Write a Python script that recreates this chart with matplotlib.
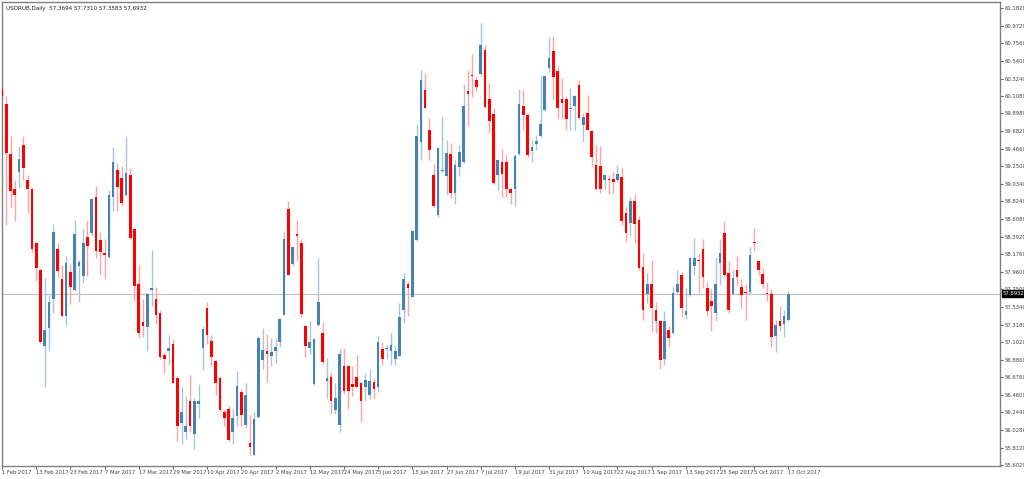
import matplotlib.pyplot as plt
import numpy as np

# daily USDRUB candles, 1 Feb 2017 .. 18 Oct 2017
opens = [60.20, 60.01, 59.40, 58.98, 59.18, 59.51, 59.09, 58.97, 58.32, 57.99,
         57.06, 57.28, 57.63, 58.24, 57.87, 57.42, 57.96, 57.74, 58.04, 57.91,
         58.39, 58.44, 58.88, 58.35, 58.19, 58.14, 58.88, 59.21, 59.11, 58.90,
         59.14, 58.49, 57.81, 57.35, 57.29, 57.74, 57.63, 57.46, 56.95, 56.99,
         57.08, 56.67, 56.12, 56.00, 56.39, 55.98, 56.35, 57.03, 57.52, 57.12,
         56.87, 56.67, 56.25, 56.29, 56.01, 56.20, 56.50, 56.09, 55.87, 55.73,
         56.19, 56.89, 57.00, 56.93, 56.99, 57.10, 57.44, 58.73, 58.06, 58.43,
         58.31, 57.30, 57.03, 56.59, 57.31, 57.21, 56.63, 56.68, 56.28, 56.09,
         56.81, 56.81, 56.59, 56.68, 56.61, 56.56, 56.46, 56.62, 56.55, 57.02,
         57.02, 56.99, 56.90, 56.94, 57.50, 57.81, 57.66, 58.35, 59.55, 60.18,
         59.70, 59.14, 58.66, 59.19, 59.13, 59.40, 58.93, 59.24, 59.31, 60.17,
         60.37, 60.31, 60.38, 60.67, 60.08, 59.89, 59.14, 59.30, 59.30, 58.98,
         58.98, 59.40, 59.99, 59.88, 59.44, 59.53, 59.62, 59.94, 60.45, 60.66,
         60.42, 60.07, 60.08, 59.95, 59.99, 60.24, 59.76, 59.90, 59.68, 59.27,
         59.25, 59.09, 59.09, 59.10, 59.09, 59.12, 58.68, 58.56, 58.83, 58.59,
         58.02, 57.69, 57.81, 57.50, 57.36, 56.90, 57.25, 57.21, 57.72, 57.93,
         57.43, 57.68, 58.03, 58.11, 58.24, 57.76, 57.61, 57.46, 58.07, 58.44,
         57.95, 57.69, 57.98, 57.78, 57.71, 57.72, 58.33, 58.10, 57.94, 57.71,
         57.69, 57.18, 57.36, 57.33, 57.3694]
highs = [60.42, 60.11, 59.62, 59.09, 59.49, 59.62, 59.14, 58.99, 58.33, 58.01,
         57.89, 57.68, 58.55, 58.32, 58.05, 58.16, 58.06, 58.59, 58.11, 58.49,
         58.60, 58.87, 59.01, 58.45, 58.37, 58.96, 59.49, 59.29, 59.25, 59.62,
         59.23, 58.50, 58.05, 57.63, 57.71, 58.23, 57.78, 57.50, 56.97, 57.19,
         57.14, 56.69, 56.55, 56.45, 56.70, 56.42, 56.59, 57.30, 57.59, 57.19,
         56.89, 56.69, 56.29, 56.32, 56.29, 56.75, 56.53, 56.61, 56.21, 56.25,
         57.18, 57.28, 57.20, 57.16, 57.16, 57.40, 58.46, 58.83, 58.28, 58.60,
         58.37, 57.31, 57.36, 57.15, 58.13, 57.35, 56.91, 56.74, 56.61, 57.02,
         57.03, 56.82, 56.81, 56.95, 56.62, 56.73, 56.77, 56.66, 57.18, 57.11,
         57.07, 57.22, 57.06, 57.58, 57.95, 57.85, 58.47, 59.77, 60.43, 60.39,
         59.84, 59.28, 59.49, 59.87, 59.57, 59.54, 59.33, 59.51, 60.26, 60.43,
         60.62, 60.35, 61.00, 60.74, 60.27, 59.96, 59.34, 59.46, 59.39, 59.00,
         59.40, 60.20, 60.19, 59.90, 59.57, 59.63, 60.35, 60.36, 60.83, 60.85,
         60.48, 60.33, 60.10, 60.21, 60.12, 60.31, 59.90, 60.12, 59.69, 59.51,
         59.50, 59.16, 59.14, 59.18, 59.27, 59.23, 58.76, 58.88, 58.91, 58.64,
         58.19, 57.95, 58.11, 57.59, 57.38, 57.49, 57.30, 57.79, 57.99, 57.96,
         57.77, 58.14, 58.38, 58.19, 58.37, 57.84, 57.75, 58.15, 58.37, 58.58,
         58.10, 57.98, 58.16, 57.88, 57.81, 58.27, 58.50, 58.11, 58.01, 57.84,
         57.75, 57.38, 57.55, 57.50, 57.7310]
lows = [60.06, 58.53, 58.74, 58.58, 58.99, 59.09, 58.68, 58.21, 57.85, 57.09,
        56.56, 56.99, 57.46, 57.90, 57.41, 57.31, 57.57, 57.73, 57.59, 57.83,
        57.91, 58.40, 58.13, 57.92, 57.88, 58.13, 58.70, 58.70, 58.77, 58.89,
        58.37, 57.61, 57.15, 57.17, 57.00, 57.55, 57.33, 56.90, 56.73, 56.83,
        56.60, 55.90, 55.86, 55.92, 56.00, 55.80, 56.18, 56.76, 57.08, 56.81,
        56.46, 56.26, 56.08, 55.89, 55.86, 56.08, 56.08, 56.06, 55.72, 55.72,
        56.18, 56.77, 56.62, 56.81, 56.85, 57.05, 57.43, 57.92, 58.03, 58.10,
        57.41, 56.92, 56.96, 56.58, 57.30, 56.84, 56.41, 56.22, 56.22, 56.00,
        56.47, 56.29, 56.45, 56.55, 56.13, 56.39, 56.41, 56.42, 56.49, 56.83,
        56.90, 56.83, 56.83, 56.93, 57.34, 57.42, 57.65, 58.34, 59.33, 59.95,
        59.33, 58.76, 58.63, 59.18, 58.90, 58.86, 58.79, 59.13, 59.29, 59.75,
        60.10, 60.17, 60.35, 59.97, 59.66, 59.04, 58.96, 58.88, 58.88, 58.79,
        58.77, 59.39, 59.70, 59.36, 59.31, 59.45, 59.61, 59.93, 60.40, 60.06,
        59.83, 59.83, 59.70, 59.70, 59.70, 59.83, 59.55, 59.69, 59.25, 58.96,
        58.92, 58.98, 58.91, 58.92, 59.06, 58.54, 58.33, 58.41, 58.32, 57.99,
        57.37, 57.58, 57.23, 57.22, 56.78, 56.83, 57.04, 57.20, 57.71, 57.41,
        57.39, 57.67, 57.92, 57.71, 57.76, 57.42, 57.24, 57.36, 57.80, 57.90,
        57.46, 57.68, 57.80, 57.52, 57.37, 57.69, 58.22, 57.93, 57.77, 57.61,
        57.05, 56.98, 57.24, 57.17, 57.3583]
closes = [60.11, 59.41, 58.95, 58.90, 59.34, 59.23, 58.97, 58.24, 58.01, 57.11,
          57.25, 57.60, 58.45, 57.97, 57.42, 58.07, 57.78, 58.43, 58.08, 58.32,
          58.28, 58.85, 58.22, 58.21, 58.17, 58.90, 59.30, 59.00, 58.80, 59.17,
          58.38, 57.79, 57.22, 57.30, 57.69, 57.77, 57.44, 56.92, 56.90, 57.03,
          56.61, 56.08, 56.25, 56.08, 56.08, 56.39, 56.38, 57.26, 57.19, 56.92,
          56.60, 56.28, 56.18, 55.91, 56.18, 56.57, 56.21, 56.46, 55.82, 56.16,
          57.16, 57.01, 56.96, 56.98, 57.04, 57.39, 58.37, 57.93, 58.27, 58.40,
          57.45, 57.06, 57.11, 57.14, 57.59, 56.86, 56.66, 56.38, 56.42, 56.96,
          56.51, 56.51, 56.55, 56.56, 56.39, 56.64, 56.63, 56.53, 57.11, 56.90,
          57.03, 57.07, 57.00, 57.41, 57.88, 57.76, 58.46, 59.62, 60.31, 59.96,
          59.45, 58.77, 59.48, 59.20, 59.42, 58.93, 59.27, 59.43, 59.99, 60.13,
          60.35, 60.22, 60.73, 59.98, 59.81, 59.05, 59.33, 59.16, 58.97, 58.93,
          59.38, 60.01, 59.88, 59.39, 59.49, 59.56, 59.77, 60.35, 60.57, 60.34,
          59.96, 60.03, 59.83, 59.97, 60.11, 59.84, 59.86, 59.70, 59.37, 58.97,
          58.97, 59.14, 59.08, 59.06, 59.16, 58.58, 58.44, 58.83, 58.55, 58.01,
          57.50, 57.82, 57.52, 57.36, 56.89, 57.36, 57.16, 57.70, 57.82, 57.52,
          57.49, 58.13, 58.13, 58.10, 57.90, 57.49, 57.55, 57.81, 58.19, 57.92,
          57.50, 57.89, 57.90, 57.68, 57.70, 58.17, 58.32, 57.98, 57.82, 57.69,
          57.17, 57.31, 57.30, 57.42, 57.6932]

date_labels = ['1 Feb 2017', '13 Feb 2017', '23 Feb 2017', '7 Mar 2017', '17 Mar 2017',
               '29 Mar 2017', '10 Apr 2017', '20 Apr 2017', '2 May 2017', '12 May 2017',
               '24 May 2017', '5 Jun 2017', '15 Jun 2017', '27 Jun 2017', '7 Jul 2017',
               '19 Jul 2017', '31 Jul 2017', '10 Aug 2017', '22 Aug 2017', '1 Sep 2017',
               '13 Sep 2017', '25 Sep 2017', '5 Oct 2017', '17 Oct 2017']
price_ticks = [61.1820, 60.9720, 60.7560, 60.5400, 60.3240, 60.1080, 59.8980, 59.6820,
               59.4660, 59.2500, 59.0340, 58.8240, 58.6080, 58.3920, 58.1760, 57.9600,
               57.7500, 57.5340, 57.3180, 57.1020, 56.8860, 56.6760, 56.4600, 56.2440,
               56.0280, 55.8120, 55.6020]

o = np.array(opens); h = np.array(highs); l = np.array(lows); c = np.array(closes)
x = np.arange(len(o))
up = c >= o

fig = plt.figure(figsize=(10.24, 4.79), dpi=100, facecolor='white')
ax = fig.add_axes([2 / 1024, 13 / 479, 998 / 1024, 464 / 479])

blue, red = '#4682B4', '#FF0000'
blue_w, red_w = '#A9C4DD', '#FFA3A3'

ax.vlines(x[up], l[up], h[up], color=blue_w, lw=1.0, zorder=2)
ax.vlines(x[~up], l[~up], h[~up], color=red_w, lw=1.0, zorder=2)
body_lo = np.minimum(o, c)
body_h = np.maximum(np.abs(c - o), 0.012)
ax.bar(x[up], body_h[up], bottom=body_lo[up], width=0.62, color=blue, lw=0, zorder=3)
ax.bar(x[~up], body_h[~up], bottom=body_lo[~up], width=0.62, color=red, lw=0, zorder=3)

last = closes[-1]
ax.axhline(last, color='#C0C0C0', lw=0.8, zorder=1)

ax.set_xlim(0, 233.5)
ax.set_ylim(55.59, 61.26)

fs = 3.8
ax.yaxis.tick_right()
ax.set_yticks(price_ticks)
ax.set_yticklabels([f'{v:.4f}' for v in price_ticks])
ax.tick_params(axis='y', labelsize=fs, length=2, width=0.6, pad=1, colors='#404040')
ax.set_xticks(np.arange(len(date_labels)) * 8)
ax.set_xticklabels(date_labels, ha='left')
ax.tick_params(axis='x', labelsize=fs, length=2.5, width=0.6, pad=0.5, colors='#404040')
for s in ax.spines.values():
    s.set_color('#808080')
    s.set_linewidth(1.0)

ax.text(1.003, last, f'{last:.4f}', transform=ax.get_yaxis_transform(), fontsize=fs,
        color='white', va='center', ha='left', zorder=10,
        bbox=dict(boxstyle='square,pad=0.2', fc='black', ec='black'))

ax.text(0.004, 0.992, 'USDRUB,Daily  57.3694 57.7310 57.3583 57.6932', transform=ax.transAxes,
        fontsize=fs + 0.3, va='top', ha='left', color='#202020')

fig.savefig('out.png', dpi=100, facecolor='white')
